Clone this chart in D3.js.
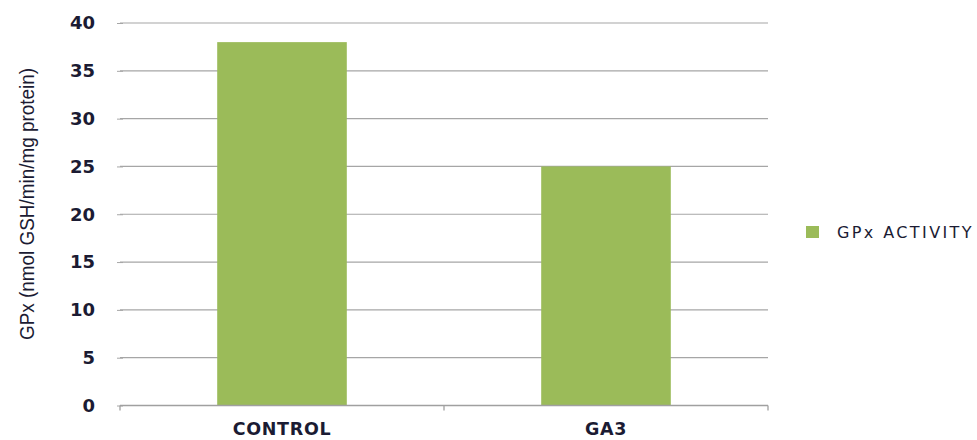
<!DOCTYPE html>
<html><head><meta charset="utf-8">
<script src="https://cdn.jsdelivr.net/npm/d3@7"></script>
<style>body{margin:0;background:#fff}svg{display:block}</style>
</head><body>
<svg id="c" width="977" height="440"></svg>
<script>
const categories = ["CONTROL", "GA3"];
const gpxValues = [38, 25];
const yTicks = [0, 5, 10, 15, 20, 25, 30, 35, 40];
const seriesName = "GPx ACTIVITY";
const yLabel = "GPx (nmol GSH/min/mg protein)";

const svg = d3.select("#c");
const mLeft = 120, mRight = 768, mTop = 23, mBottom = 405.5;
const x = d3.scaleBand().domain(categories).range([mLeft, mRight]).padding(0);
const y = d3.scaleLinear().domain([0, 40]).range([mBottom, mTop]);
const textCol = "#1b1b33";

// gridlines
svg.append("g").selectAll("line").data(yTicks.filter(d => d > 0)).join("line")
  .attr("x1", mLeft).attr("x2", mRight)
  .attr("y1", d => y(d)).attr("y2", d => y(d))
  .attr("stroke", "#a6a6a6").attr("stroke-width", 1.2);

// y axis
const ya = svg.append("g").attr("transform", `translate(${mLeft},0)`)
  .call(d3.axisLeft(y).tickValues(yTicks).tickSize(4).tickPadding(21));
ya.select(".domain").remove();
ya.selectAll(".tick line").attr("stroke", "#a6a6a6").attr("x1", -3).attr("x2", 3);
ya.selectAll("text").attr("font-family", "DejaVu Sans, Verdana, sans-serif")
  .attr("font-size", 18).attr("font-weight", "bold").attr("fill", textCol);

// bars
const bw = x.bandwidth() * 0.4;
svg.append("g").selectAll("rect").data(categories).join("rect")
  .attr("x", (d) => x(d) + (x.bandwidth() - bw) / 2)
  .attr("width", bw)
  .attr("y", (d, i) => y(gpxValues[i]))
  .attr("height", (d, i) => y(0) - y(gpxValues[i]))
  .attr("fill", "#9bbb59");

// x axis
const xa = svg.append("g").attr("transform", `translate(0,${mBottom})`)
  .call(d3.axisBottom(x).tickSize(0));
xa.select(".domain").attr("stroke", "#a0a0a0").attr("stroke-width", 1.3).attr("d", `M${mLeft},0H${mRight}`);
xa.selectAll("text").attr("y", 29.5).attr("dy", 0)
  .attr("font-family", "DejaVu Sans, Verdana, sans-serif")
  .attr("font-size", 17.5).attr("font-weight", "bold").attr("letter-spacing", 0.7).attr("fill", textCol);
// category boundary ticks
svg.append("g").selectAll("line").data([...categories.map(c => x(c)), mRight]).join("line")
  .attr("x1", d => d).attr("x2", d => d)
  .attr("y1", mBottom).attr("y2", mBottom + 5)
  .attr("stroke", "#a0a0a0").attr("stroke-width", 1.3);

// y label
svg.append("text").attr("transform", `translate(34,204) rotate(-90)`)
  .attr("text-anchor", "middle").attr("font-family", "Liberation Sans, Arial, sans-serif")
  .attr("font-size", 20).attr("textLength", 272).attr("lengthAdjust", "spacingAndGlyphs")
  .attr("fill", textCol).text(yLabel);

// legend
const lg = svg.append("g").attr("transform", "translate(806,226)");
lg.append("rect").attr("width", 13).attr("height", 12).attr("fill", "#9bbb59");
lg.append("text").attr("x", 31).attr("y", 12).attr("font-family", "DejaVu Sans, Verdana, sans-serif")
  .attr("font-size", 16).attr("letter-spacing", 2.4).attr("fill", textCol).text(seriesName);
</script>
</body></html>
